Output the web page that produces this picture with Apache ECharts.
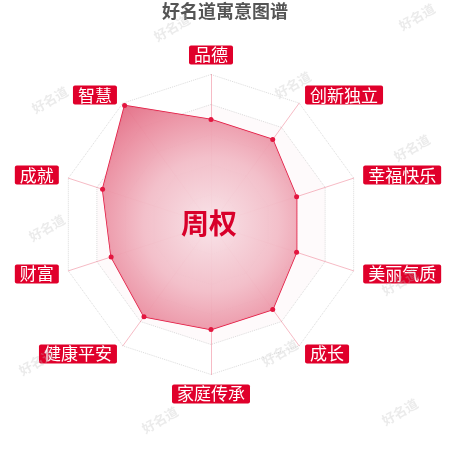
<!DOCTYPE html>
<html>
<head>
    <meta charset="utf-8">
    <script src="https://cdn.jsdelivr.net/npm/echarts@6/dist/echarts.min.js"></script>
    <style>
        html, body { margin: 0; padding: 0; background: #fff; }
    </style>
</head>
<body>
<div id="radar" style="width:450px;height:450px"></div>
<script>
    // 指标（按ECharts逆时针顺序，从正上方开始）
    var indicatorNames = ['品德', '智慧', '成就', '财富', '健康平安', '家庭传承', '成长', '美丽气质', '幸福快乐', '创新独立'];
    var scoreValues = [70, 98, 76, 70, 76, 70, 70, 60, 60, 70];
    var maxScore = 100;
    var personName = '周权';
    var titleText = '好名道寓意图谱';
    // 水印位置
    var markX = [172, 417, 50, 293, 412, 47, 400, 37, 280, 160, 400];
    var markY = [28, 17, 100, 85, 148, 228, 282, 362, 353, 420, 412];

    var myRadar = echarts.init(document.getElementById('radar'));

    var indicators = [];
    for (var i = 0; i < indicatorNames.length; i++) {
        indicators.push({ name: indicatorNames[i], max: maxScore });
    }

    var marks = [];
    for (var j = 0; j < markX.length; j++) {
        marks.push({
            type: 'text',
            x: markX[j],
            y: markY[j],
            rotation: Math.PI / 6,
            z: 100,
            style: {
                text: '好名道',
                fill: 'rgba(190,190,190,0.3)',
                font: 'bold 13px "Noto Sans CJK SC"',
                textAlign: 'center',
                textVerticalAlign: 'middle'
            }
        });
    }
    marks.push({
        type: 'text',
        x: 209,
        y: 223,
        z: 101,
        style: {
            text: personName,
            fill: '#d8002a',
            font: 'bold 28px "Noto Sans CJK SC"',
            textAlign: 'center',
            textVerticalAlign: 'middle'
        }
    });

    var option = {
        title: {
            text: titleText,
            left: 'center',
            top: -3,
            textStyle: {
                color: '#555',
                fontSize: 18,
                fontWeight: 'bold',
                fontFamily: 'Noto Sans CJK SC'
            }
        },
        radar: {
            center: [211, 224.5],
            radius: 150,
            splitNumber: 5,
            nameGap: 10,
            indicator: indicators,
            axisName: {
                color: '#fff',
                backgroundColor: '#e0002b',
                borderRadius: 2,
                padding: [1, 5],
                fontSize: 17,
                fontFamily: 'Noto Sans CJK SC'
            },
            axisLine: {
                lineStyle: { color: 'rgba(230,60,90,0.35)', width: 1 }
            },
            splitLine: {
                lineStyle: { color: 'rgba(190,190,190,0.55)', type: 'dotted', width: 1 }
            },
            splitArea: {
                show: true,
                areaStyle: { color: ['rgba(255,255,255,0)', 'rgba(240,170,185,0.06)'] }
            }
        },
        graphic: marks,
        series: [{
            type: 'radar',
            symbol: 'circle',
            symbolSize: 5,
            itemStyle: { color: '#e3163f' },
            lineStyle: { color: '#e3163f', width: 1.5 },
            areaStyle: {
                opacity: 0.95,
                color: {
                    type: 'radial',
                    x: 211, y: 224.5, r: 150,
                    global: true,
                    colorStops: [
                        { offset: 0, color: '#f8e2e7' },
                        { offset: 0.45, color: '#f2bcc7' },
                        { offset: 0.75, color: '#eb90a2' },
                        { offset: 1, color: '#e26a82' }
                    ]
                }
            },
            data: [{ value: scoreValues, name: personName }]
        }]
    };
    myRadar.setOption(option);
</script>
</body>
</html>
